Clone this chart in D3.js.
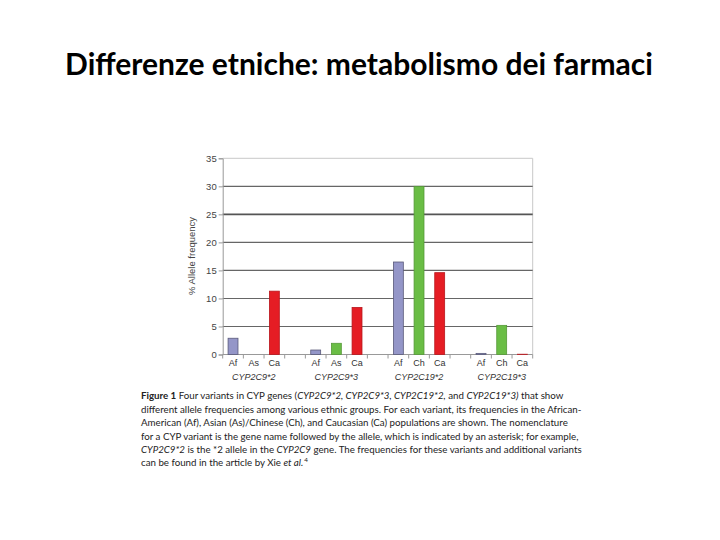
<!DOCTYPE html>
<html><head><meta charset="utf-8">
<script src="https://cdn.jsdelivr.net/npm/d3@7"></script>
<style>body{margin:0;background:#fff}svg{display:block}</style>
</head><body>
<svg id="c" width="720" height="540"></svg>
<script>
const title = "Differenze etniche: metabolismo dei farmaci";
const variants = ["CYP2C9*2", "CYP2C9*3", "CYP2C19*2", "CYP2C19*3"];
const populations = [["Af","As","Ca"],["Af","As","Ca"],["Af","Ch","Ca"],["Af","Ch","Ca"]];
const popGroup = [["af","as","ca"],["af","as","ca"],["af","as","ca"],["af","as","ca"]];
const values = [[2.9, 0, 11.3],[0.8, 2.0, 8.4],[16.5, 30.0, 14.6],[0.2, 5.2, 0.05]];
const yTicks = [0,5,10,15,20,25,30,35];
const yLabel = "% Allele frequency";

const colors = {af:"#9496c8", as:"#6abd45", ca:"#e51d24"};
const svg = d3.select("#c");

// title
const t = svg.append("text").attr("x",359).attr("y",75).attr("text-anchor","middle")
  .style("font-family","Lato,'Open Sans',sans-serif").style("font-weight",700).style("font-size","26px")
  .attr("fill","#000").text(title);
const tw = t.node().getComputedTextLength();
t.style("font-size", (26*588/tw)+"px");

// chart
const L=222.7, R=532.7, Y0=354.5, Y35=158.3;
const slots = d3.range(15);
const x = d3.scaleBand().domain(slots).range([L,R]).paddingInner(0).paddingOuter(0);
const y = d3.scaleLinear().domain([0,35]).range([Y0,Y35]);

const rows = [];
variants.forEach((v,g)=>populations[g].forEach((p,i)=>rows.push({v,g,i,p,val:values[g][i],c:popGroup[g][i],slot:g*4+i})));

const ch = svg.append("g");
ch.append("line").attr("x1",L).attr("x2",R).attr("y1",y(35)).attr("y2",y(35)).attr("stroke","#c8c8c8");
ch.append("line").attr("x1",R).attr("x2",R).attr("y1",y(35)).attr("y2",y(0)).attr("stroke","#c8c8c8");
ch.selectAll(".g").data(yTicks.filter(d=>d>0&&d<35)).join("line")
  .attr("x1",L).attr("x2",R).attr("y1",d=>y(d)).attr("y2",d=>y(d))
  .attr("stroke",d=>d===25?"#555":"#666").attr("stroke-width",d=>d===25?1.6:1.1);
const ya = d3.axisLeft(y).tickValues(yTicks).tickSize(4).tickPadding(2);
const yg = ch.append("g").attr("transform",`translate(${L},0)`).call(ya);
yg.select(".domain").attr("stroke","#999");
yg.selectAll(".tick line").attr("stroke","#999");
yg.selectAll("text").attr("fill","#444").style("font-family","'Liberation Sans',Arial,sans-serif").style("font-size","9.5px");
ch.append("line").attr("x1",L).attr("x2",R).attr("y1",Y0).attr("y2",Y0).attr("stroke","#999");
ch.selectAll(".xt").data(d3.range(16)).join("line")
  .attr("x1",d=>L+d*x.bandwidth()).attr("x2",d=>L+d*x.bandwidth())
  .attr("y1",Y0).attr("y2",Y0+4).attr("stroke","#999");
const bw = x.bandwidth()*0.48;
ch.selectAll(".bar").data(rows.filter(d=>d.val>0)).join("rect")
  .attr("x",d=>x(d.slot)+x.bandwidth()/2-bw/2).attr("width",bw)
  .attr("y",d=>y(d.val)).attr("height",d=>Y0-y(d.val))
  .attr("fill",d=>colors[d.c]).attr("stroke",d=>d.c==="af"?"#5a5a7a":d3.color(colors[d.c]).darker(0.6)).attr("stroke-width",0.8);
ch.selectAll(".pl").data(rows).join("text")
  .attr("x",d=>x(d.slot)+x.bandwidth()/2).attr("y",365.5).attr("text-anchor","middle")
  .attr("fill","#333").style("font-family","'Liberation Sans',Arial,sans-serif").style("font-size","9px").text(d=>d.p);
ch.selectAll(".vl").data(variants).join("text")
  .attr("x",(d,g)=>x(g*4+1)+x.bandwidth()/2).attr("y",379.5).attr("text-anchor","middle")
  .attr("fill","#333").style("font-family","'Liberation Sans',Arial,sans-serif").style("font-size","9px").style("font-style","italic").text(d=>d);
ch.append("text").attr("transform","translate(195,256) rotate(-90)").attr("text-anchor","middle")
  .attr("fill","#444").style("font-family","'Liberation Sans',Arial,sans-serif").style("font-size","9.5px").text(yLabel);

// caption
const capLines = [
  [["Figure 1","b"],["  Four variants in CYP genes (",""],["CYP2C9*2, CYP2C9*3, CYP2C19*2,","i"],[" and ",""],["CYP2C19*3)","i"],[" that show",""]],
  [["different allele frequencies among various ethnic groups. For each variant, its frequencies in the African-",""]],
  [["American (Af), Asian (As)/Chinese (Ch), and Caucasian (Ca) populations are shown. The nomenclature",""]],
  [["for a CYP variant is the gene name followed by the allele, which is indicated by an asterisk; for example,",""]],
  [["CYP2C9*2","i"],[" is the *2 allele in the ",""],["CYP2C9","i"],[" gene. The frequencies for these variants and additional variants",""]],
  [["can be found in the article by Xie ",""],["et al.","i"],["4","s"]]
];
const capY = [399, 412.5, 426, 439.5, 453, 466];
const texts = capLines.map((ln,k)=>{
  const tx = svg.append("text").attr("x",141).attr("y",capY[k]).attr("fill","#222")
    .style("font-family","Lato,sans-serif").style("font-size","10px");
  ln.forEach(([s,f])=>{
    const ts = tx.append("tspan").text(s);
    if(f==="b") ts.style("font-weight",700);
    if(f==="i") ts.style("font-style","italic");
    if(f==="s") ts.attr("class","sup").attr("dy",-4).attr("dx",1);
  });
  return tx;
});
const w2 = texts[1].node().getComputedTextLength();
const fs = 10*441/w2;
texts.forEach(tx=>tx.style("font-size",fs+"px"));
svg.selectAll(".sup").style("font-size",(fs*0.65)+"px");
</script>
</body></html>
